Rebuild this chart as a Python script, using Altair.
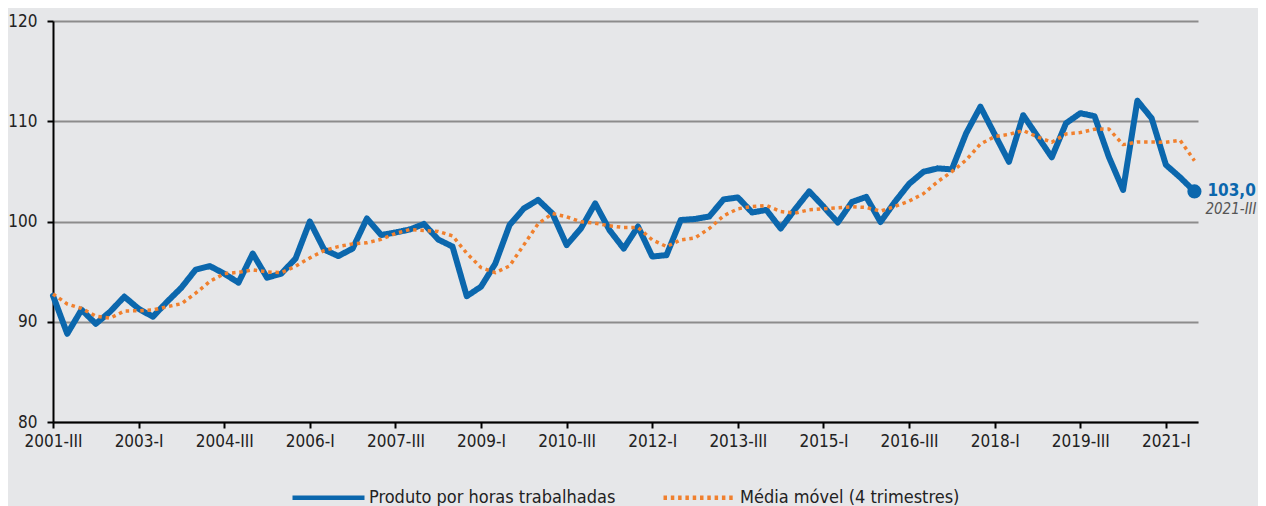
import altair as alt
import pandas as pd

# ---- data -------------------------------------------------------------
quarters = [f"{y}-{q}" for y in range(2001, 2022) for q in ["I", "II", "III", "IV"]][2:-1]

produto = [92.6, 88.8, 91.2, 89.8, 91.0, 92.5, 91.3, 90.5, 92.0, 93.4,
           95.2, 95.55, 94.8, 93.9, 96.8, 94.4, 94.8, 96.3, 100.0, 97.2,
           96.55, 97.3, 100.3, 98.65, 98.9, 99.2, 99.75, 98.2, 97.5, 92.55,
           93.5, 95.8, 99.65, 101.3, 102.15, 100.8, 97.65, 99.3, 101.8, 99.15,
           97.3, 99.5, 96.5, 96.65, 100.15, 100.25, 100.5, 102.2, 102.4, 100.9,
           101.15, 99.3, 101.2, 103.0, 101.5, 99.9, 101.95, 102.45, 99.95, 101.95,
           103.75, 104.95, 105.3, 105.2, 108.8, 111.45, 108.7, 105.95, 110.6, 108.5,
           106.4, 109.8, 110.8, 110.5, 106.45, 103.15, 112.05, 110.3, 105.65, 104.4,
           103.0]

media_movel = [92.77, 91.77, 91.33, 90.57, 90.35, 91.07, 91.1, 91.17, 91.5, 91.8,
               92.85, 94.03, 94.8, 94.93, 95.17, 94.97, 94.9, 95.53, 96.37, 97.1,
               97.5, 97.77, 97.87, 98.23, 98.8, 99.2, 99.1, 99.0, 98.57, 96.83,
               95.4, 94.9, 95.57, 97.67, 99.77, 100.8, 100.47, 99.97, 99.83, 99.57,
               99.4, 99.4, 98.17, 97.5, 98.17, 98.37, 99.3, 100.57, 101.27, 101.5,
               101.6, 101.0, 100.83, 101.17, 101.27, 101.37, 101.47, 101.4, 101.03, 101.5,
               102.03, 102.77, 103.97, 104.97, 106.13, 107.73, 108.47, 108.7, 109.07, 108.43,
               107.9, 108.73, 108.87, 109.2, 109.23, 107.67, 107.93, 107.93, 107.9, 108.1,
               106.07]

tick_labels = ["2001-III", "2003-I", "2004-III", "2006-I", "2007-III", "2009-I",
               "2010-III", "2012-I", "2013-III", "2015-I", "2016-III", "2018-I",
               "2019-III", "2021-I"]
tick_positions = [quarters.index(t) for t in tick_labels]
y_ticks = [80, 90, 100, 110, 120]

S1 = "Produto por horas trabalhadas"
S2 = "Média móvel (4 trimestres)"
BLUE = "#0b67ad"
ORANGE = "#f0802e"
FONT = "DejaVu Sans Condensed, Liberation Sans Narrow, Roboto, sans-serif"

idx = list(range(len(quarters)))
df_p = pd.DataFrame({"t": idx, "quarter": quarters, "value": produto, "series": S1})
df_m = pd.DataFrame({"t": idx, "quarter": quarters, "value": media_movel, "series": S2})
df_last = pd.DataFrame({
    "t": [idx[-1]], "value": [produto[-1]],
    "label": [f"{produto[-1]:.1f}".replace(".", ",")],
    "period": [quarters[-1]],
})

label_expr = "[" + ",".join(f"'{t}'" for t in tick_labels) + "][round(datum.value/6)]"

leg = alt.Legend(
    title=None, orient="none", legendX=237, legendY=438, direction="horizontal",
    symbolType="stroke", symbolSize=5184, symbolStrokeWidth=4.5,
    labelFontSize=18, labelColor="#222222",
    labelFont=FONT, labelOffset=2, columnPadding=38, padding=0, labelLimit=400,
)

x_enc = alt.X("t:Q", scale=alt.Scale(domain=[0, 80.25], nice=False, zero=False),
              axis=alt.Axis(values=tick_positions, labelExpr=label_expr, title=None,
                            grid=False, domainColor="black", domainWidth=2,
                            tickColor="black", tickWidth=2, tickSize=6,
                            labelFontSize=17, labelColor="#222222", labelFont=FONT,
                            labelPadding=5, labelFlush=False, zindex=1))
y_enc = alt.Y("value:Q", scale=alt.Scale(domain=[80, 120], nice=False, zero=False),
              axis=alt.Axis(values=y_ticks, title=None, grid=True, gridColor="#8c8c8c",
                            gridWidth=2, domainColor="black", domainWidth=2,
                            tickColor="black", tickWidth=2, tickSize=6,
                            labelFontSize=17, labelColor="#222222", labelFont=FONT,
                            labelPadding=10, labelFlush=False))

color = alt.Color("series:N", scale=alt.Scale(domain=[S1, S2], range=[BLUE, ORANGE]), legend=leg)
dash = alt.StrokeDash("series:N", scale=alt.Scale(domain=[S1, S2], range=[[1, 0], [3.5, 3.8]]), legend=leg)

line_p = alt.Chart(df_p).mark_line(strokeJoin="round", strokeCap="round", strokeWidth=6).encode(
    x=x_enc, y=y_enc, color=color, strokeDash=dash)
line_m = alt.Chart(df_m).mark_line(strokeJoin="round", strokeWidth=3.5).encode(
    x="t:Q", y="value:Q", color=color, strokeDash=dash)

point = alt.Chart(df_last).mark_circle(size=200, opacity=1, color=BLUE).encode(
    x="t:Q", y="value:Q")
txt_val = alt.Chart(df_last).mark_text(
    align="left", baseline="middle", dx=13, dy=0, fontSize=17, fontWeight="bold",
    color=BLUE, font=FONT).encode(x="t:Q", y="value:Q", text="label:N")
txt_per = alt.Chart(df_last).mark_text(
    align="left", baseline="middle", dx=11, dy=18, fontSize=15, fontStyle="italic",
    color="#555555", font=FONT).encode(x="t:Q", y="value:Q", text="period:N")

chart = alt.layer(line_p, line_m, point, txt_val, txt_per).properties(
    width=1145, height=401,
    autosize=alt.AutoSizeParams(type="none"),
    padding={"left": 45, "top": 13, "right": 60, "bottom": 85},
).configure(background="#e6e7e9", font=FONT).configure_view(stroke=None)

chart.save("out.html", embed_options={"renderer": "svg", "actions": False})
